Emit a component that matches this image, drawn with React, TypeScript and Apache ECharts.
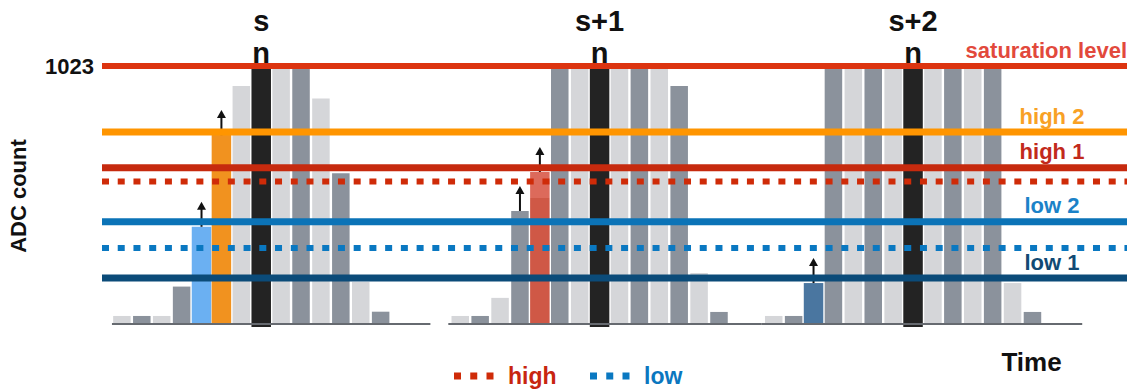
import React, { useEffect, useRef } from "react";
import * as echarts from "echarts";

// ---------- data ----------
const sampleLabels = ["s", "s+1", "s+2"];
const windowStarts = [0, 17, 32.75]; // time slot of first sample in each window
const window1Adc = [28, 28, 28, 145, 383, 748, 943, 1023, 1023, 1023, 894, 596, 164, 45];
const window1Kinds = ["L", "D", "L", "D", "B", "O", "L", "N", "L", "D", "L", "D", "L", "D"];
const window1Arrows = [4, 5];
const window2Adc = [28, 28, 100, 446, 601, 1023, 1023, 1023, 1023, 1023, 1023, 943, 199, 44];
const window2Kinds = ["L", "D", "L", "D", "R", "D", "L", "N", "L", "D", "L", "D", "L", "D"];
const window2Arrows = [3, 4];
const window3Adc = [28, 28, 159, 1023, 1023, 1023, 1023, 1023, 1023, 1023, 1023, 1023, 159, 44];
const window3Kinds = ["L", "D", "S", "D", "L", "D", "L", "N", "L", "D", "L", "D", "L", "D"];
const window3Arrows = [2];
const baselineSpans = [
  [-0.5, 15.5],
  [16.4, 32.15],
  [32.15, 48.25],
];
const thresholdLabels = ["saturation level", "high 2", "high 1", "high", "low 2", "low", "low 1"];
const thresholdAdc = [1023, 760, 618, 563, 403, 299, 179];
const yTickValues = [1023];
const legendItems = ["high", "low"];

// ---------- styles ----------
const KIND_COLOR: Record<string, string> = {
  L: "#d5d6d9",
  D: "#8b929c",
  N: "#232323",
  B: "#6bb0f2",
  O: "#f1921f",
  R: "#d0584a",
  S: "#4a76a0",
};
const THRESHOLD_STYLE: Record<string, any> = {
  "saturation level": { color: "#dc3410", width: 6, text: "#e2493c", align: "right" },
  "high 2": { color: "#ff9500", width: 7, text: "#f8a125", align: "center" },
  "high 1": { color: "#c62a0e", width: 7, text: "#c22a1c", align: "center" },
  high: { color: "#cf2b08", width: 6, dashed: true },
  "low 2": { color: "#0b73b7", width: 7, text: "#1b82c8", align: "center" },
  low: { color: "#0a78c1", width: 6, dashed: true },
  "low 1": { color: "#0b4b79", width: 7, text: "#114a74", align: "center" },
};
const DASH = [7, 8.73];
const FONT = "'Liberation Sans', Arial, Helvetica, sans-serif";

const windows = [
  { adc: window1Adc, kinds: window1Kinds, arrows: window1Arrows },
  { adc: window2Adc, kinds: window2Kinds, arrows: window2Arrows },
  { adc: window3Adc, kinds: window3Kinds, arrows: window3Arrows },
];
const KIND_LIST = Object.keys(KIND_COLOR);

const barData: number[][] = [];
windows.forEach((w, wi) => {
  w.adc.forEach((v, i) => {
    barData.push([windowStarts[wi] + i, v, KIND_LIST.indexOf(w.kinds[i]), w.arrows.includes(i) ? 1 : 0, wi]);
  });
});

export default function App() {
  const ref = useRef<HTMLDivElement>(null);
  useEffect(() => {
    if (!ref.current) return;
    const chart = echarts.init(ref.current, null, { renderer: "svg" });

    const renderBar = (params: any, api: any) => {
      const x = api.value(0);
      const v = api.value(1);
      const kind = KIND_LIST[api.value(2)];
      const hasArrow = api.value(3) === 1;
      const wi = api.value(4);
      const top = api.coord([x, v]);
      const base = api.coord([x, 0]);
      const slotW = api.size([1, 0])[0];
      const wide = kind !== "L" && kind !== "D";
      const w = slotW * (wide ? 0.98 : 0.88);
      const children: any[] = [];
      let fill: any = KIND_COLOR[kind];
      if (kind === "R") {
        fill = new echarts.graphic.LinearGradient(0, 0, 0, 1, [
          { offset: 0, color: "#dc6a5b" },
          { offset: 0.17, color: "#dc6a5b" },
          { offset: 0.17, color: "#cf5846" },
          { offset: 1, color: "#cf5846" },
        ]);
      }
      children.push({
        type: "rect",
        shape: { x: top[0] - w / 2, y: top[1], width: w, height: base[1] - top[1] + (kind === "N" ? 4 : 0) },
        style: { fill },
      });
      if (hasArrow) {
        const ax = top[0];
        const tip = top[1] - 25;
        children.push({
          type: "line",
          shape: { x1: ax, y1: top[1], x2: ax, y2: tip + 6 },
          style: { stroke: "#111", lineWidth: 2 },
        });
        children.push({
          type: "polygon",
          shape: { points: [[ax, tip], [ax - 4.5, tip + 8], [ax + 4.5, tip + 8]] },
          style: { fill: "#111" },
        });
      }
      if (kind === "N") {
        children.push({
          type: "text",
          x: top[0],
          y: top[1] - 13.5,
          style: { text: "n", font: `bold 29px ${FONT}`, fill: "#111", align: "center", verticalAlign: "middle" },
        });
        children.push({
          type: "text",
          x: top[0],
          y: top[1] - 45,
          style: { text: sampleLabels[wi], font: `bold 29px ${FONT}`, fill: "#111", align: "center", verticalAlign: "middle" },
        });
      }
      return { type: "group", children };
    };

    const renderBaseline = (params: any, api: any) => {
      const a = api.coord([api.value(0), 0]);
      const b = api.coord([api.value(1), 0]);
      return {
        type: "line",
        shape: { x1: a[0], y1: a[1] + 1, x2: b[0], y2: b[1] + 1 },
        style: { stroke: "#666a70", lineWidth: 2 },
      };
    };

    const renderThreshold = (params: any, api: any) => {
      const v = api.value(1);
      const name = thresholdLabels[api.value(2)];
      const st = THRESHOLD_STYLE[name];
      const y = api.coord([0, v])[1];
      const cs = params.coordSys;
      const children: any[] = [
        {
          type: "line",
          shape: { x1: cs.x, y1: y, x2: cs.x + cs.width, y2: y },
          style: { stroke: st.color, lineWidth: st.width, lineDash: st.dashed ? DASH : null, lineCap: "butt" },
        },
      ];
      if (st.text) {
        children.push({
          type: "text",
          x: st.align === "right" ? cs.x + cs.width : cs.x + cs.width - 75,
          y: y - 16,
          style: {
            text: name,
            font: `bold 22px ${FONT}`,
            fill: st.text,
            align: st.align,
            verticalAlign: "middle",
          },
        });
      }
      return { type: "group", children };
    };

    const legendColors: Record<string, any> = {
      high: { dash: THRESHOLD_STYLE.high.color, text: "#c8250f" },
      low: { dash: THRESHOLD_STYLE.low.color, text: "#0b77bf" },
    };
    const legendX = [454, 590];
    const legendGraphics: any[] = [];
    legendItems.forEach((name, i) => {
      const x0 = legendX[i];
      legendGraphics.push({
        type: "line",
        shape: { x1: x0, y1: 376, x2: x0 + 39.5, y2: 376 },
        style: { stroke: legendColors[name].dash, lineWidth: 7, lineDash: [7, 9.25], lineCap: "butt" },
      });
      legendGraphics.push({
        type: "text",
        x: x0 + 54,
        y: 375.5,
        style: { text: name, font: `bold 23px ${FONT}`, fill: legendColors[name].text, align: "left", verticalAlign: "middle" },
      });
    });

    chart.setOption({
      animation: false,
      textStyle: { fontFamily: FONT },
      grid: { left: 102, right: 7, top: 66, bottom: 66, containLabel: false },
      xAxis: { type: "value", min: -1, max: 50.5, show: false },
      yAxis: {
        type: "value",
        min: 0,
        max: 1023,
        axisLine: { show: false },
        axisTick: { show: false },
        splitLine: { show: false },
        axisLabel: {
          customValues: yTickValues,
          formatter: (v: number) => String(v),
          fontSize: 22,
          fontWeight: "bold",
          color: "#111",
          margin: 8,
        },
      },
      series: [
        {
          type: "custom",
          name: "samples",
          z: 2,
          renderItem: renderBar,
          encode: { x: 0, y: 1 },
          data: barData,
        },
        {
          type: "custom",
          name: "baseline",
          z: 3,
          renderItem: renderBaseline,
          encode: { x: [0, 1] },
          data: baselineSpans,
        },
        {
          type: "custom",
          name: "thresholds",
          z: 4,
          renderItem: renderThreshold,
          encode: { y: 1 },
          data: thresholdAdc.map((v, i) => [0, v, i]),
        },
      ],
      graphic: [
        {
          type: "text",
          x: 18,
          y: 196,
          rotation: Math.PI / 2,
          style: { text: "ADC count", font: `bold 22px ${FONT}`, fill: "#111", align: "center", verticalAlign: "middle" },
        },
        {
          type: "text",
          x: 1031.5,
          y: 362,
          style: { text: "Time", font: `bold 26px ${FONT}`, fill: "#111", align: "center", verticalAlign: "middle" },
        },
        ...legendGraphics,
      ],
    });
    return () => chart.dispose();
  }, []);
  return <div ref={ref} style={{ position: "absolute", left: 0, top: 0, width: 1134, height: 389 }} />;
}
